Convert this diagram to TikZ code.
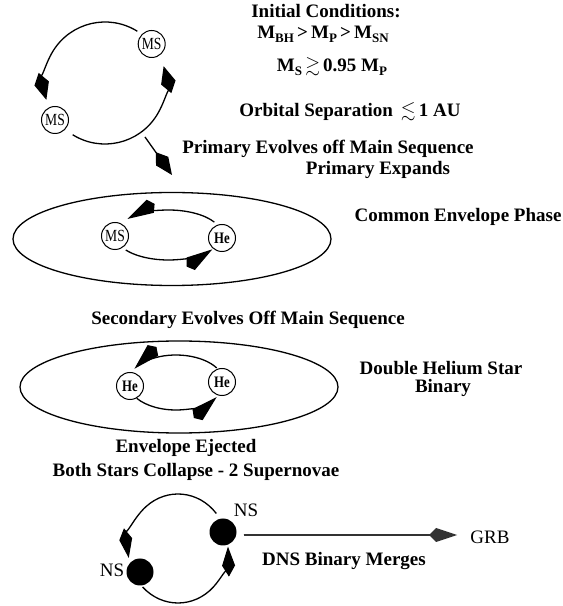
\documentclass[tikz,border=0pt]{standalone}
\usepackage{fontspec}
\usepackage{amssymb}
\setmainfont{Liberation Serif}
\usetikzlibrary{arrows.meta}
\newcommand\sbs[1]{\raisebox{-0.45ex}{\fontsize{13}{13}\selectfont #1}}
\newcommand\narrow[1]{\scalebox{0.8}[1]{#1}}
\begin{document}
\begin{tikzpicture}[x=1pt,y=1pt,
  lbl/.style={font=\bfseries\fontsize{19}{22}\selectfont, anchor=base, inner sep=0pt},
  lblr/.style={font=\fontsize{19}{22}\selectfont, anchor=base, inner sep=0pt},
  star/.style={circle, draw, line width=1pt, minimum size=27pt, inner sep=0pt, font=\fontsize{17}{17}\selectfont},
  hestar/.style={star, font=\bfseries\fontsize{16}{16}\selectfont},
  nstar/.style={circle, fill=black, minimum size=27pt, inner sep=0pt},
  orbit/.style={line width=1.3pt},
  env/.style={line width=1.3pt},
  ktbig/.style={-{Kite[length=28pt,width=15pt,inset=11pt]}},
  ktin/.style={-{Kite[length=31pt,width=15pt,inset=5pt]}},
  ktns/.style={-{Kite[length=30pt,width=13pt,inset=11pt]}},
  ktgrb/.style={-{Kite[length=28pt,width=14pt,inset=7pt]}},
  grbline/.style={line width=1.6pt, draw=black!80, fill=black!80}
]
\fill[white] (0,0) rectangle (563,606);
\useasboundingbox (0,0) rectangle (563,606);

% ---------- texts ----------
\node[lbl] (t1) at (326,588) {Initial Conditions:};
\node[lbl] (t2) at (323,567) {M\sbs{BH}\,>\,M\sbs{P}\,>\,M\sbs{SN}};
\node[lbl] (t3) at (332,534) {M\sbs{S}\,$\gtrsim$\,0.95 M\sbs{P}};
\node[lbl] (t4) at (350,489) {Orbital Separation \,$\lesssim$\,1 AU};
\node[lbl] (t5) at (328,452) {Primary Evolves off Main Sequence};
\node[lbl] (t6) at (378,431) {Primary Expands};
\node[lbl] (t7) at (458,384) {Common Envelope Phase};
\node[lbl] (t8) at (248,281) {Secondary Evolves Off Main Sequence};
\node[lbl] (t9) at (441,231) {Double Helium Star};
\node[lbl] (t10) at (443,213) {Binary};
\node[lbl] (t11) at (186,153) {Envelope Ejected};
\node[lbl] (t12) at (196,129) {Both Stars Collapse - 2 Supernovae};
\node[lblr] (t13) at (246,89) {NS};
\node[lblr] (t14) at (112,29) {NS};
\node[lblr] (t15) at (490,62) {GRB};
\node[lbl] (t16) at (344,41) {DNS Binary Merges};

% ---------- initial binary ----------
\coordinate (c1) at (105,523);
\node[star] (ms1) at (151.7,562) {\narrow{MS}};
\node[star] (ms2) at (55,486) {\narrow{MS}};
\draw[orbit,ktbig] (c1) ++(58:61) arc[start angle=58,end angle=196,radius=61];
\draw[orbit,ktbig] (c1) ++(238:61) arc[start angle=238,end angle=376,radius=61];
\coordinate (d1) at (145,469);
\coordinate (d2) at (172,431);
\draw[orbit,ktbig] (d1) -- (d2);

% ---------- common envelope ----------
\coordinate (e1) at (172,367);
\draw[env] (e1) ellipse[x radius=159,y radius=46.5];
\node[star] (ms3) at (115,370) {\narrow{MS}};
\node[hestar] (he1) at (222,368) {\narrow{He}};
\coordinate (o1) at (168.5,371);
\draw[orbit,ktin] (o1) ++(31:53.5 and 25) arc[start angle=31,end angle=140,x radius=53.5,y radius=25];
\draw[orbit,ktin] (o1) ++(217:53.5 and 25) arc[start angle=217,end angle=325,x radius=53.5,y radius=25];

% ---------- double helium ----------
\coordinate (e2) at (179,219);
\draw[env] (e2) ellipse[x radius=159,y radius=46];
\node[hestar] (he2) at (130,220) {\narrow{He}};
\node[hestar] (he3) at (222,224) {\narrow{He}};
\coordinate (o2) at (176,223.5);
\draw[orbit,ktin] (o2) ++(32:48 and 27.5) arc[start angle=32,end angle=150,x radius=48,y radius=27.5];
\draw[orbit,ktin] (o2) ++(215:48 and 27.5) arc[start angle=215,end angle=328,x radius=48,y radius=27.5];

% ---------- double neutron star ----------
\coordinate (o3) at (178,57.5);
\draw[orbit,ktns] (o3) ++(40:50 and 54.5) arc[start angle=40,end angle=190,x radius=50,y radius=54.5];
\draw[orbit,ktns] (o3) ++(225:50 and 54.5) arc[start angle=225,end angle=362,x radius=50,y radius=54.5];
\node[nstar] (nsu) at (223,74) {};
\node[nstar] (nsl) at (140,34) {};
\coordinate (tip) at (457,71);
\draw[grbline,ktgrb] ([shift={(7,-3)}]nsu.east) -- (tip);
\end{tikzpicture}
\end{document}
